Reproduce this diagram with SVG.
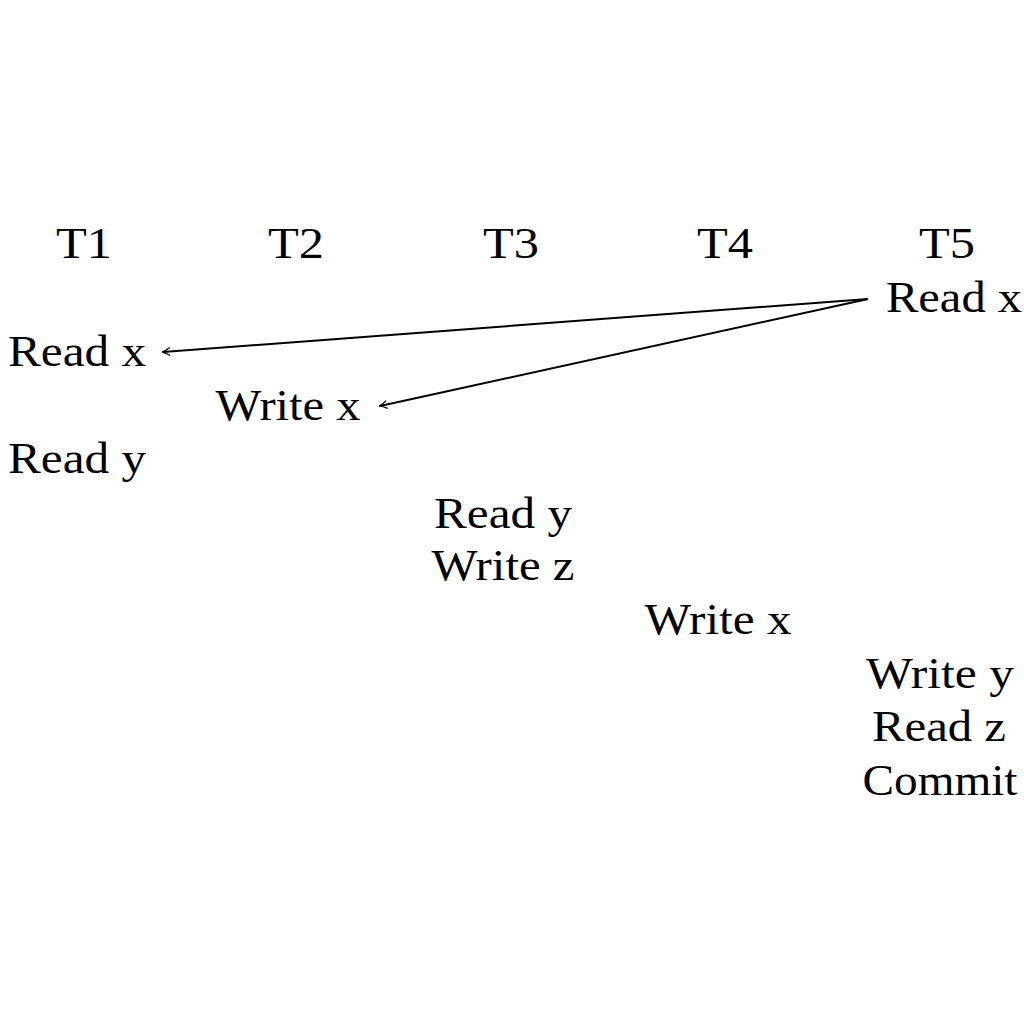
<svg xmlns="http://www.w3.org/2000/svg" width="1024" height="1024" viewBox="0 0 1024 1024">
<style>
text{font-family:"Liberation Serif","DejaVu Serif",serif;font-size:44px;fill:#000;text-anchor:middle}
.c{stroke:#000;stroke-width:2;fill:none}
</style>
<defs>
<marker id="ah" viewBox="0 0 10 10" refX="8" refY="5" markerWidth="10" markerHeight="10" markerUnits="userSpaceOnUse" orient="auto">
<path d="M1,1 Q5,4 9,5 Q5,6 1,9" fill="none" stroke="#000" stroke-width="1.3"/>
</marker>
</defs>
<rect width="1024" height="1024" fill="#fff"/>
<g id="headers">
<text id="T1" x="84" y="258" textLength="56" lengthAdjust="spacingAndGlyphs">T1</text>
<text id="T2" x="296" y="258" textLength="56" lengthAdjust="spacingAndGlyphs">T2</text>
<text id="T3" x="511" y="258" textLength="56" lengthAdjust="spacingAndGlyphs">T3</text>
<text id="T4" x="725" y="258" textLength="56" lengthAdjust="spacingAndGlyphs">T4</text>
<text id="T5" x="947" y="258" textLength="56" lengthAdjust="spacingAndGlyphs">T5</text>
</g>
<g id="n_t5_readx"><text x="954" y="312" textLength="136" lengthAdjust="spacingAndGlyphs">Read x</text></g>
<g id="n_t1_readx"><text x="77" y="366" textLength="138" lengthAdjust="spacingAndGlyphs">Read x</text></g>
<g id="n_t2_writex"><text x="288" y="420" textLength="145" lengthAdjust="spacingAndGlyphs">Write x</text></g>
<g id="n_t1_ready"><text x="77" y="473" textLength="138" lengthAdjust="spacingAndGlyphs">Read y</text></g>
<g id="n_t3_ready"><text x="503" y="528" textLength="138" lengthAdjust="spacingAndGlyphs">Read y</text></g>
<g id="n_t3_writez"><text x="503" y="580" textLength="143" lengthAdjust="spacingAndGlyphs">Write z</text></g>
<g id="n_t4_writex"><text x="718" y="634" textLength="147" lengthAdjust="spacingAndGlyphs">Write x</text></g>
<g id="n_t5_writey"><text x="940" y="688" textLength="148" lengthAdjust="spacingAndGlyphs">Write y</text></g>
<g id="n_t5_readz"><text x="939" y="741" textLength="134" lengthAdjust="spacingAndGlyphs">Read z</text></g>
<g id="n_t5_commit"><text x="940" y="795" textLength="155" lengthAdjust="spacingAndGlyphs">Commit</text></g>
<g id="connectors">
<line class="c" x1="868" y1="299" x2="163" y2="352" marker-end="url(#ah)"/>
<line class="c" x1="868" y1="299" x2="380" y2="406" marker-end="url(#ah)"/>
</g>
</svg>
